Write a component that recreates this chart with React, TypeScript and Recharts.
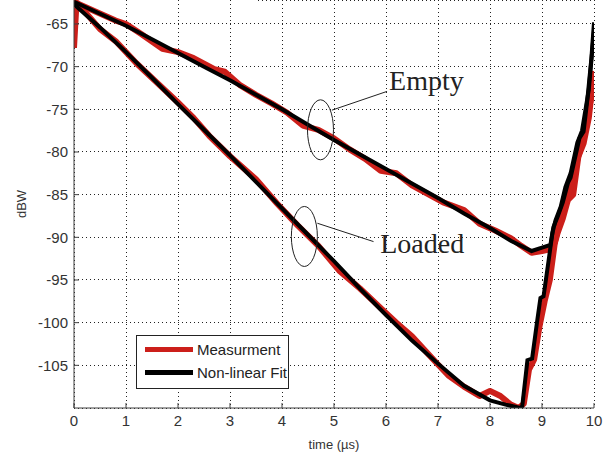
import React from 'react';
import {
  LineChart,
  Line,
  XAxis,
  YAxis,
  CartesianGrid,
  ReferenceDot,
  ReferenceLine
} from 'recharts';

// time axis (µs) and level (dBW)
const xTicks = [0, 1, 2, 3, 4, 5, 6, 7, 8, 9, 10];
const yTicks = [-105, -100, -95, -90, -85, -80, -75, -70, -65];

const emptyFitT = [0, 0.5, 1, 1.5, 2, 2.5, 3, 3.5, 4, 4.5, 5, 5.5, 6, 6.5, 7, 7.5, 8, 8.4, 8.8, 9.0, 9.16, 9.22, 9.3, 9.4, 9.5, 9.55, 9.72, 9.8, 9.87, 9.95, 10];
const emptyFitDb = [-62.4, -63.8, -65.2, -66.8, -68.4, -70.0, -71.6, -73.3, -75.0, -76.8, -78.6, -80.3, -82.0, -83.7, -85.4, -87.2, -88.9, -90.4, -91.6, -91.2, -90.9, -88.8, -87.6, -85.9, -83.6, -83.0, -78.4, -77.6, -74.0, -69.0, -64.8];

const loadedFitT = [0, 0.5, 1, 1.5, 2, 2.5, 3, 3.5, 4, 4.5, 5, 5.5, 6, 6.5, 7, 7.5, 8, 8.3, 8.58, 8.62, 8.72, 8.81, 8.91, 8.97, 9.03, 9.13, 9.2, 9.26, 9.36, 9.45, 9.55, 9.68, 9.77, 9.9, 10];
const loadedFitDb = [-62.7, -65.4, -68.3, -71.3, -74.4, -77.4, -80.4, -83.5, -86.6, -89.7, -92.8, -96.0, -99.1, -102.1, -104.8, -107.4, -109.1, -109.6, -110, -109.8, -104.4, -104.2, -99.7, -97.1, -96.9, -92.6, -89.5, -88.0, -86.4, -84.1, -82.5, -78.9, -77.5, -72.7, -65.8];

const emptyMeasT = [0, 0.1, 0.4, 0.8, 1.0, 1.3, 1.7, 2.0, 2.3, 2.7, 2.9, 3.2, 3.5, 3.8, 4.1, 4.4, 4.7, 5.0, 5.3, 5.6, 5.9, 6.2, 6.5, 6.8, 7.1, 7.5, 7.8, 8.1, 8.4, 8.6, 8.8, 9.0, 9.15, 9.25, 9.3, 9.4, 9.5, 9.6, 9.7, 9.8, 9.9, 10];
const emptyMeasDb = [-62.3, -62.7, -63.5, -64.6, -65.0, -66.2, -67.9, -68.3, -69.0, -70.3, -70.6, -72.2, -73.3, -74.3, -75.4, -76.9, -77.4, -78.4, -79.7, -80.8, -82.2, -82.5, -83.9, -84.9, -85.9, -86.8, -88.4, -89.2, -90.1, -91.0, -91.8, -91.6, -91.4, -90.6, -89.5, -87.8, -85.6, -85.0, -80.5, -79.0, -76.0, -70.5];

const loadedMeasT = [0, 0.04, 0.1, 0.5, 0.8, 1.2, 1.6, 2.0, 2.3, 2.6, 3.0, 3.5, 3.9, 4.3, 4.7, 5.1, 5.5, 5.9, 6.2, 6.5, 6.8, 7.0, 7.2, 7.5, 7.8, 8.0, 8.2, 8.4, 8.55, 8.65, 8.75, 8.85, 8.95, 9.05, 9.15, 9.25, 9.35, 9.45, 9.55, 9.65, 9.75, 9.85, 9.95, 10];
const loadedMeasDb = [-67.8, -63.4, -62.8, -65.6, -67.0, -69.6, -71.9, -74.2, -76.0, -78.1, -80.5, -83.2, -86.0, -88.6, -91.0, -93.9, -96.0, -98.3, -100.0, -101.6, -103.6, -104.9, -106.2, -107.5, -108.6, -108.0, -108.6, -109.6, -110, -109.5, -105.5, -104.3, -100.5, -97.5, -95.0, -90.5, -88.0, -86.0, -84.0, -81.5, -79.5, -76.5, -73.5, -71.5];

const toPoints = (t: number[], db: number[]) => t.map((x, i) => ({ x, y: db[i] }));

const RED = '#cc1f1a';
const AXIS = '#404040';
const FONT = '"Liberation Sans", Arial, sans-serif';
const SERIF = '"Liberation Serif", "Times New Roman", serif';

const Ellipse = (props: any) => (
  <ellipse cx={props.cx} cy={props.cy} rx={13} ry={30} fill="none" stroke="#222" strokeWidth={1} />
);

const AnnoText = (label: string) => (props: any) => (
  <text x={props.cx} y={props.cy} fontFamily={SERIF} fontSize={28} fill="#222">
    {label}
  </text>
);

const App: React.FC = () => {
  return (
    <div style={{ position: 'absolute', left: 0, top: 0, width: 616, height: 458, background: '#fff', fontFamily: FONT }}>
      <LineChart width={616} height={458} margin={{ top: 0, right: 22, left: 0, bottom: 0 }}>
        <CartesianGrid stroke="#222" strokeDasharray="1 3" shapeRendering="crispEdges" />
        <XAxis
          dataKey="x"
          type="number"
          domain={[0, 10]}
          ticks={xTicks}
          allowDataOverflow
          height={50}
          stroke={AXIS}
          tickSize={-5}
          tickMargin={12}
          tick={{ fill: '#333', fontSize: 15, fontFamily: FONT }}
          label={({ viewBox }: any) => (
            <text x={viewBox.x + viewBox.width / 2} y={viewBox.y + 36} textAnchor="middle" dominantBaseline="central" fontSize={13} fill="#333" fontFamily={FONT}>
              time (µs)
            </text>
          )}
        />
        <XAxis xAxisId="top" orientation="top" type="number" domain={[0, 10]} ticks={xTicks} height={0} stroke={AXIS} tickSize={-5} tick={() => <g />} />
        <YAxis
          type="number"
          domain={[-110, -62.19]}
          ticks={yTicks}
          allowDataOverflow
          width={74}
          stroke={AXIS}
          tickSize={-5}
          tickMargin={11}
          tick={{ fill: '#333', fontSize: 15, fontFamily: FONT }}
          label={({ viewBox }: any) => {
            const cx = 21;
            const cy = viewBox.y + viewBox.height / 2;
            return (
              <text x={cx} y={cy} transform={`rotate(-90 ${cx} ${cy})`} textAnchor="middle" dominantBaseline="central" fontSize={13} fill="#333" fontFamily={FONT}>
                dBW
              </text>
            );
          }}
        />
        <YAxis yAxisId="right" orientation="right" type="number" domain={[-110, -62.19]} ticks={yTicks} width={0} stroke={AXIS} tickSize={-5} tick={() => <g />} />

        <Line data={toPoints(emptyMeasT, emptyMeasDb)} dataKey="y" stroke={RED} strokeWidth={6} dot={false} isAnimationActive={false} strokeLinejoin="round" />
        <Line data={toPoints(loadedMeasT, loadedMeasDb)} dataKey="y" stroke={RED} strokeWidth={6} dot={false} isAnimationActive={false} strokeLinejoin="round" />
        <Line data={toPoints(emptyFitT, emptyFitDb)} dataKey="y" stroke="#000" strokeWidth={4} dot={false} isAnimationActive={false} />
        <Line data={toPoints(loadedFitT, loadedFitDb)} dataKey="y" stroke="#000" strokeWidth={4} dot={false} isAnimationActive={false} />

        {/* annotations */}
        <ReferenceDot x={4.74} y={-77.4} shape={Ellipse} />
        <ReferenceDot x={4.43} y={-89.9} shape={Ellipse} />
        <ReferenceLine segment={[{ x: 4.96, y: -75.1 }, { x: 6.02, y: -72.9 }]} stroke="#222" strokeWidth={1} />
        <ReferenceLine segment={[{ x: 4.68, y: -88.35 }, { x: 5.76, y: -90.5 }]} stroke="#222" strokeWidth={1} />
        <ReferenceDot x={6.06} y={-72.75} shape={AnnoText('Empty')} />
        <ReferenceDot x={5.89} y={-91.8} shape={AnnoText('Loaded')} />
      </LineChart>

      {/* legend box */}
      <div style={{ position: 'absolute', left: 136, top: 335, width: 151, height: 52, border: '1px solid #222', background: '#fff' }}>
        {[{ c: RED, t: 'Measurment', top: 13 }, { c: '#000', t: 'Non-linear Fit', top: 36 }].map(r => (
          <div key={r.t} style={{ position: 'absolute', left: 8, top: r.top - 10, height: 20, display: 'flex', alignItems: 'center' }}>
            <div style={{ width: 48, height: 5, background: r.c }} />
            <span style={{ marginLeft: 4, fontSize: 15, color: '#222', whiteSpace: 'nowrap' }}>{r.t}</span>
          </div>
        ))}
      </div>
    </div>
  );
};

export default App;
